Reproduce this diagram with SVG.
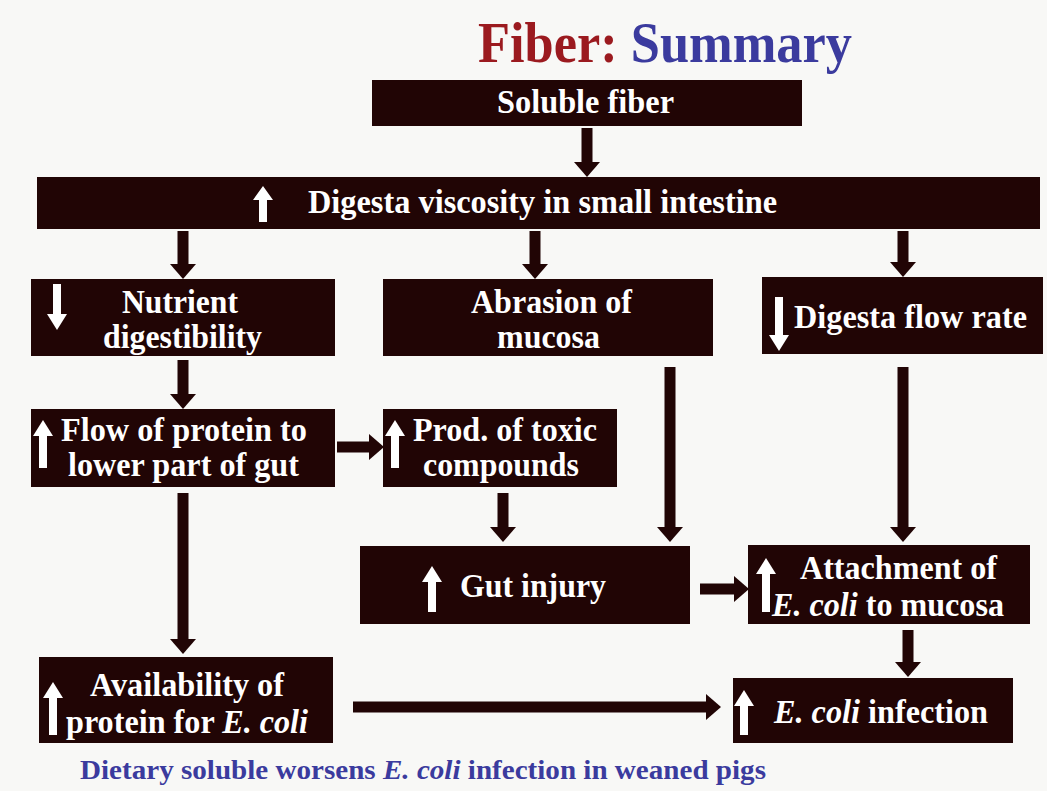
<svg xmlns="http://www.w3.org/2000/svg" width="1047" height="791" viewBox="0 0 1047 791">
<defs>
<style>
.box{fill:#210505}
.t{font-family:"Liberation Serif","Times New Roman",serif;font-weight:bold;fill:#ffffff;font-size:28px}
.w{fill:#ffffff}
.c line{stroke:#210505;stroke-width:11}
</style>
<marker id="ah" markerUnits="userSpaceOnUse" markerWidth="26" markerHeight="26" viewBox="0 0 15 26" refX="4" refY="13" orient="auto">
<path d="M0,0 L15,13 L0,26 z" fill="#210505"/>
</marker>
</defs>
<rect width="1047" height="791" fill="#f8f8f6"/>
<text transform="translate(478,62) scale(1,1.08)" font-family="Liberation Serif, serif" font-weight="bold" font-size="52" textLength="374" lengthAdjust="spacingAndGlyphs"><tspan fill="#9b1a1f">Fiber: </tspan><tspan fill="#3b3b9e">Summary</tspan></text>

<g id="soluble">
<rect class="box" x="372" y="80" width="430" height="46"/>
<text class="t" transform="translate(497,113) scale(1,1.22)" textLength="177" lengthAdjust="spacingAndGlyphs">Soluble fiber</text>
</g>
<g id="viscosity">
<rect class="box" x="37" y="177" width="1003" height="52"/>
<polygon class="w" points="259,222 267,222 267,200 273,200 263,186 253,200 259,200"/>
<text class="t" transform="translate(308,213) scale(1,1.22)" textLength="469" lengthAdjust="spacingAndGlyphs">Digesta viscosity in small intestine</text>
</g>
<g id="nutrient">
<rect class="box" x="31" y="279" width="304" height="77"/>
<polygon class="w" points="53,284 61,284 61,314 67,314 57,330 47,314 53,314"/>
<text class="t" transform="translate(122,313) scale(1,1.2)" textLength="116" lengthAdjust="spacingAndGlyphs">Nutrient</text>
<text class="t" transform="translate(103,348) scale(1,1.2)" textLength="159" lengthAdjust="spacingAndGlyphs">digestibility</text>
</g>
<g id="abrasion">
<rect class="box" x="383" y="279" width="330" height="77"/>
<text class="t" transform="translate(471,313) scale(1,1.2)" textLength="161" lengthAdjust="spacingAndGlyphs">Abrasion of</text>
<text class="t" transform="translate(497,348) scale(1,1.2)" textLength="103" lengthAdjust="spacingAndGlyphs">mucosa</text>
</g>
<g id="flowrate">
<rect class="box" x="762" y="277" width="281" height="77"/>
<polygon class="w" points="775,297 783,297 783,335 789,335 779,351 769,335 775,335"/>
<text class="t" transform="translate(794,328) scale(1,1.22)" textLength="233" lengthAdjust="spacingAndGlyphs">Digesta flow rate</text>
</g>
<g id="flowprotein">
<rect class="box" x="31" y="409" width="304" height="78"/>
<polygon class="w" points="39,468 47,468 47,436 53,436 43,420 33,436 39,436"/>
<text class="t" transform="translate(61,441) scale(1,1.2)" textLength="246" lengthAdjust="spacingAndGlyphs">Flow of protein to</text>
<text class="t" transform="translate(68,476) scale(1,1.2)" textLength="231" lengthAdjust="spacingAndGlyphs">lower part of gut</text>
</g>
<g id="toxic">
<rect class="box" x="383" y="409" width="234" height="78"/>
<polygon class="w" points="391,468 399,468 399,436 405,436 395,420 385,436 391,436"/>
<text class="t" transform="translate(413,441) scale(1,1.2)" textLength="184" lengthAdjust="spacingAndGlyphs">Prod. of toxic</text>
<text class="t" transform="translate(423,476) scale(1,1.2)" textLength="156" lengthAdjust="spacingAndGlyphs">compounds</text>
</g>
<g id="gutinjury">
<rect class="box" x="360" y="546" width="330" height="78"/>
<polygon class="w" points="428,612 436,612 436,582 442,582 432,566 422,582 428,582"/>
<text class="t" transform="translate(460,597) scale(1,1.22)" textLength="146" lengthAdjust="spacingAndGlyphs">Gut injury</text>
</g>
<g id="attachment">
<rect class="box" x="748" y="545" width="282" height="79"/>
<polygon class="w" points="762,612 770,612 770,574 776,574 766,558 756,574 762,574"/>
<text class="t" transform="translate(800,579) scale(1,1.2)" textLength="197" lengthAdjust="spacingAndGlyphs">Attachment of</text>
<text class="t" transform="translate(772,616) scale(1,1.2)" textLength="232" lengthAdjust="spacingAndGlyphs"><tspan font-style="italic">E. coli</tspan> to mucosa</text>
</g>
<g id="infection">
<rect class="box" x="733" y="678" width="280" height="65"/>
<polygon class="w" points="740,735 748,735 748,706 754,706 744,690 734,706 740,706"/>
<text class="t" transform="translate(774,723) scale(1,1.22)" textLength="214" lengthAdjust="spacingAndGlyphs"><tspan font-style="italic">E. coli</tspan> infection</text>
</g>
<g id="availability">
<rect class="box" x="39" y="657" width="294" height="86"/>
<polygon class="w" points="49,735 57,735 57,698 63,698 53,682 43,698 49,698"/>
<text class="t" transform="translate(90,696) scale(1,1.2)" textLength="194" lengthAdjust="spacingAndGlyphs">Availability of</text>
<text class="t" transform="translate(66,733) scale(1,1.2)" textLength="242" lengthAdjust="spacingAndGlyphs">protein for <tspan font-style="italic">E. coli</tspan></text>
</g>

<g id="connectors" class="c">
<line x1="587" y1="128" x2="587" y2="166" marker-end="url(#ah)"/>
<line x1="183" y1="231" x2="183" y2="268" marker-end="url(#ah)"/>
<line x1="535" y1="231" x2="535" y2="268" marker-end="url(#ah)"/>
<line x1="903" y1="231" x2="903" y2="266" marker-end="url(#ah)"/>
<line x1="183" y1="360" x2="183" y2="398" marker-end="url(#ah)"/>
<line x1="337" y1="447" x2="373" y2="447" marker-end="url(#ah)"/>
<line x1="670" y1="367" x2="670" y2="531" marker-end="url(#ah)"/>
<line x1="503" y1="493" x2="503" y2="531" marker-end="url(#ah)"/>
<line x1="903" y1="367" x2="903" y2="531" marker-end="url(#ah)"/>
<line x1="700" y1="589" x2="738" y2="589" marker-end="url(#ah)"/>
<line x1="908" y1="630" x2="908" y2="666" marker-end="url(#ah)"/>
<line x1="183" y1="493" x2="183" y2="643" marker-end="url(#ah)"/>
<line x1="353" y1="707" x2="710" y2="707" marker-end="url(#ah)"/>
</g>
<text transform="translate(80,779) scale(1,1.15)" font-family="Liberation Serif, serif" font-weight="bold" font-size="23" fill="#3b3b9e" textLength="686" lengthAdjust="spacingAndGlyphs">Dietary soluble worsens <tspan font-style="italic">E. coli</tspan> infection in weaned pigs</text>
</svg>
